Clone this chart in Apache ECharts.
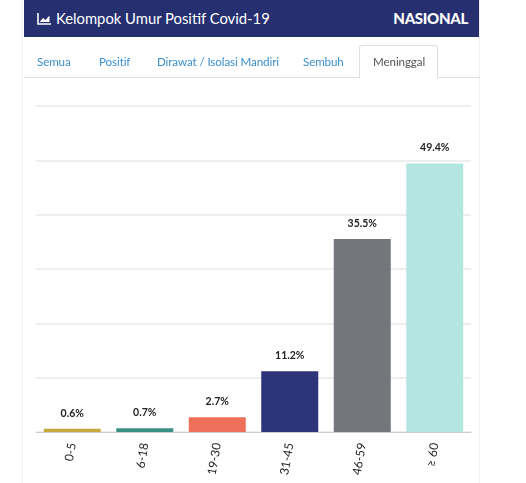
<!DOCTYPE html>
<html>
<head>
<meta charset="utf-8">
<script src="https://cdn.jsdelivr.net/npm/echarts@6/dist/echarts.min.js"></script>
<style>
  html, body { margin:0; padding:0; background:#fff; width:526px; height:483px; overflow:hidden; font-family: Lato, "Open Sans", sans-serif; }
  #panel { position:absolute; left:22px; top:0; width:458px; height:483px; border-left:1px solid #f2f2f2; border-right:1px solid #f2f2f2; box-sizing:border-box; }
  #header { position:absolute; left:24px; top:0; width:455px; height:37px; background:#262f70; color:#fff; }
  #title { position:absolute; left:13px; top:9px; font-size:14.8px; font-family: Lato, sans-serif; white-space:nowrap; }
  #title svg { vertical-align:-1px; margin-right:4px; }
  #nasional { position:absolute; right:11px; top:9px; font-size:15px; font-weight:900; letter-spacing:-0.3px; font-family: Lato, sans-serif; }
  #tabline { position:absolute; left:24px; top:77px; width:456px; height:1px; background:#dedede; }
  .tab { position:absolute; top:55px; font-size:11.6px; letter-spacing:-0.1px; color:#3a8fcf; white-space:nowrap; }
  #active { position:absolute; left:359px; top:45px; width:79px; height:33px; border:1px solid #dedede; border-bottom:none; border-radius:3px 3px 0 0; background:#fff; box-sizing:border-box; }
  #chart { position:absolute; left:0; top:0; width:526px; height:483px; }
</style>
</head>
<body>
<div id="panel"></div>
<div id="chart"></div>
<div id="header">
  <div id="title"><svg width="15" height="12" viewBox="0 0 15 12"><path d="M1 0 V11 H14" stroke="#fff" stroke-width="1.6" fill="none"/><path d="M3 8.5 L6 5 L8.5 7 L12.5 2.5 L12.5 9 L3 9 Z" fill="#fff"/></svg>Kelompok Umur Positif Covid-19</div>
  <div id="nasional">NASIONAL</div>
</div>
<div id="tabline"></div>
<div id="active"></div>
<div class="tab" style="left:37px">Semua</div>
<div class="tab" style="left:99px">Positif</div>
<div class="tab" style="left:157px">Dirawat / Isolasi Mandiri</div>
<div class="tab" style="left:303px">Sembuh</div>
<div class="tab" style="left:373px;color:#555">Meninggal</div>
<script>
const categories = ['0-5', '6-18', '19-30', '31-45', '46-59', '≥ 60'];
const values = [0.6, 0.7, 2.7, 11.2, 35.5, 49.4];
const colors = ['#c6a83c', '#3b9086', '#ee705a', '#2d347a', '#75767c', '#b3e6e0'];

const chart = echarts.init(document.getElementById('chart'));
chart.setOption({
  animation: false,
  grid: { left: 36, right: 55, top: 106, bottom: 51, containLabel: false },
  xAxis: {
    type: 'category',
    data: categories,
    axisLine: { lineStyle: { color: '#cccccc' } },
    axisTick: { show: false },
    axisLabel: { rotate: 80, color: '#222', fontSize: 12, fontFamily: 'Lato', margin: 11 }
  },
  yAxis: {
    type: 'value',
    min: 0, max: 60, interval: 10,
    axisLabel: { show: false },
    axisLine: { show: false },
    axisTick: { show: false },
    splitLine: { lineStyle: { color: '#e8e8e8', width: 1.5 } }
  },
  series: [{
    type: 'bar',
    barWidth: 57,
    data: values.map((v, i) => ({ value: v, itemStyle: { color: colors[i] } })),
    label: {
      show: true, position: 'top', distance: 10,
      formatter: p => p.value + '%',
      color: '#222', fontSize: 10.5, fontWeight: 'bold', fontFamily: 'Lato'
    }
  }]
});
</script>
</body>
</html>
